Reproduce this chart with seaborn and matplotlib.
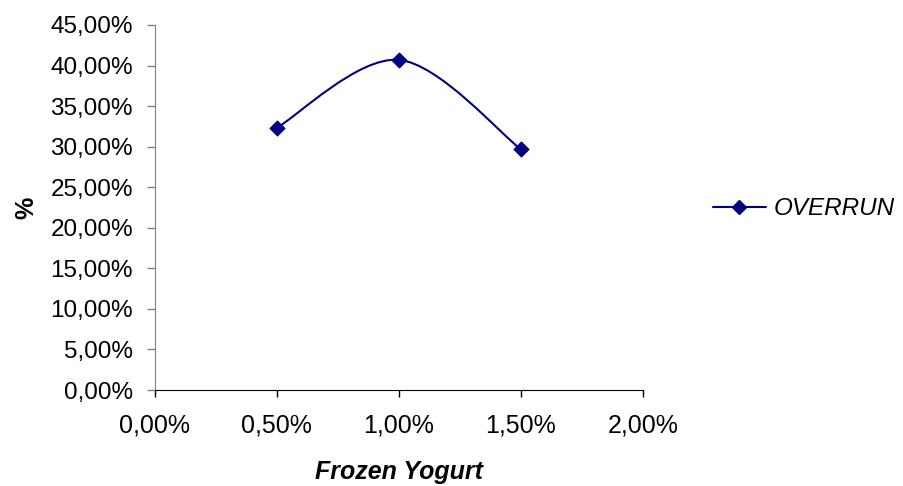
import numpy as np
import seaborn as sns
import matplotlib.pyplot as plt
from matplotlib.path import Path
from matplotlib.patches import PathPatch
from matplotlib.lines import Line2D
from matplotlib.ticker import FuncFormatter, MultipleLocator

# data
concentration = [0.005, 0.010, 0.015]   # Frozen Yogurt
overrun = [0.323, 0.407, 0.297]
series_name = "OVERRUN"
navy = "#000080"

sns.set_style("white")
plt.rcParams['font.family'] = ['Liberation Sans', 'DejaVu Sans']
plt.rcParams['text.color'] = 'black'
plt.rcParams['xtick.color'] = 'black'
plt.rcParams['ytick.color'] = 'black'
plt.rcParams['axes.labelcolor'] = 'black'

fig = plt.figure(figsize=(9.04, 4.86), dpi=100)
ax = fig.add_axes([0.171, 0.1975, 0.540, 0.7511])

# smoothed line (excel style bezier through the points)
x = np.array(concentration)
y = np.array(overrun)
verts = [(x[0], y[0])]
codes = [Path.MOVETO]
for i in range(len(x) - 1):
    x0, y0 = (x[i - 1], y[i - 1]) if i > 0 else (x[i], y[i])
    x3, y3 = (x[i + 2], y[i + 2]) if i + 2 < len(x) else (x[i + 1], y[i + 1])
    c1 = (x[i] + (x[i + 1] - x0) / 6, y[i] + (y[i + 1] - y0) / 6)
    c2 = (x[i + 1] - (x3 - x[i]) / 6, y[i + 1] - (y3 - y[i]) / 6)
    verts += [c1, c2, (x[i + 1], y[i + 1])]
    codes += [Path.CURVE4] * 3
ax.add_patch(PathPatch(Path(verts, codes), facecolor='none', edgecolor=navy, lw=1.5))

sns.scatterplot(x=concentration, y=overrun, marker='D', s=60, color=navy,
                edgecolor=navy, ax=ax, zorder=3, legend=False)

ax.set_xlim(0, 0.02)
ax.set_ylim(0, 0.45)
ax.xaxis.set_major_locator(MultipleLocator(0.005))
ax.yaxis.set_major_locator(MultipleLocator(0.05))
pct = FuncFormatter(lambda v, p: f"{v*100:.2f}%".replace('.', ','))
ax.xaxis.set_major_formatter(pct)
ax.yaxis.set_major_formatter(pct)

for s in ['top', 'right']:
    ax.spines[s].set_visible(False)
ax.spines['left'].set_color('#808080')
ax.spines['bottom'].set_color('black')
ax.tick_params(axis='y', direction='out', length=6, width=1, color='#808080',
               labelsize=17.5, left=True, pad=9.5)
ax.tick_params(axis='x', direction='out', length=5, width=1, color='black',
               labelsize=18, bottom=True, pad=12)

ax.set_xlabel("Frozen Yogurt", fontsize=18, fontweight='bold', style='italic', labelpad=16)
ax.set_ylabel("%", fontsize=18, fontweight='bold', labelpad=9)

handle = Line2D([], [], color=navy, lw=1.5, marker='D', markersize=7.5)
fig.legend([handle], [series_name], loc='center left', bbox_to_anchor=(0.7777, 0.57),
           frameon=False, prop={'size': 17.5, 'style': 'italic'}, handlelength=2.2,
           handletextpad=0.3, borderaxespad=0)

fig.savefig("out.png", dpi=100)
